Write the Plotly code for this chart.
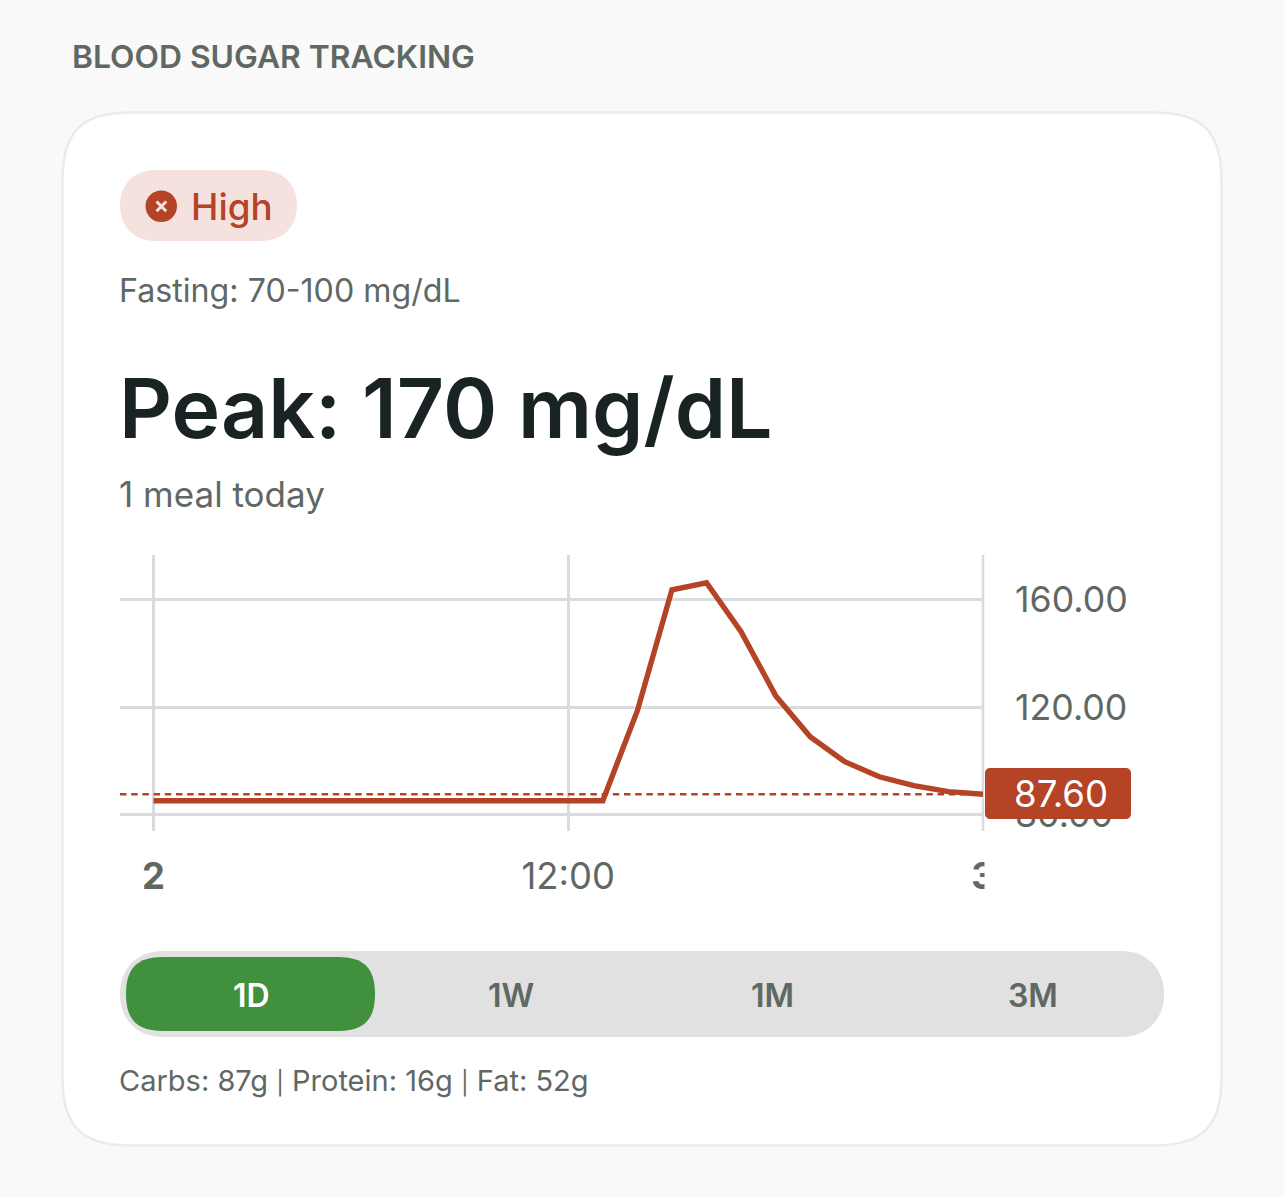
import plotly.graph_objects as go

# ---- data ----
hours = [0, 12, 13, 14, 15, 16, 17, 18, 19, 20, 21, 22, 23, 24]
glucose = [85.2, 85.2, 85.2, 118.7, 163.7, 166.3, 148.1, 124.3, 109.0, 99.7, 94.1, 90.8, 88.6, 87.6]
last_value = 87.60
x_tick_vals = [0, 12, 24]
x_tick_text = ["<b>2</b>", "12:00", "<b>3</b>"]
y_tick_vals = [80, 120, 160]
y_tick_text = ["80.00", "120.00", "160.00"]
segments = ["1D", "1W", "1M", "3M"]

W, H = 1284, 1197
RED = "#b54326"
GREY = "#5f6863"
DARK = "#1a2323"
GRID = "#d9dbde"
FONT = "Inter"


def px(x):
    return x / W


def py(y):
    return 1 - y / H


def rrect(x0, y0, x1, y1, r, fill, line=None, lw=0, c=0.45):
    k = r * c
    p = (f"M{px(x0 + r)},{py(y0)} L{px(x1 - r)},{py(y0)} "
         f"C{px(x1 - k)},{py(y0)} {px(x1)},{py(y0 + k)} {px(x1)},{py(y0 + r)} "
         f"L{px(x1)},{py(y1 - r)} "
         f"C{px(x1)},{py(y1 - k)} {px(x1 - k)},{py(y1)} {px(x1 - r)},{py(y1)} "
         f"L{px(x0 + r)},{py(y1)} "
         f"C{px(x0 + k)},{py(y1)} {px(x0)},{py(y1 - k)} {px(x0)},{py(y1 - r)} "
         f"L{px(x0)},{py(y0 + r)} "
         f"C{px(x0)},{py(y0 + k)} {px(x0 + k)},{py(y0)} {px(x0 + r)},{py(y0)} Z")
    return dict(type="path", xref="paper", yref="paper", path=p, fillcolor=fill,
                line=dict(color=line or fill, width=lw), layer="below")


fig = go.Figure()
fig.add_trace(go.Scatter(x=[-0.969, 24], y=[last_value, last_value], mode="lines",
                         line=dict(color=RED, width=2.7, dash="6.5px,4.7px"), hoverinfo="skip"))
fig.add_trace(go.Scatter(x=hours, y=glucose, mode="lines",
                         line=dict(color=RED, width=5.4), hoverinfo="skip"))

shapes = [
    rrect(62.5, 112.5, 1221.5, 1145.5, 68, "#ffffff", "#eaecea", 2.5, 0.28),
    rrect(120, 170, 297, 241, 35.5, "#f5e2df", c=0.4),
    rrect(120, 951, 1164, 1037, 43, "#e0e1e0", c=0.4),
    rrect(126, 957, 375, 1031, 37, "#40903e", c=0.3),
    dict(type="circle", xref="paper", yref="paper", x0=px(145.5), x1=px(177), y0=py(222), y1=py(190.5),
         fillcolor=RED, line=dict(width=0), layer="below"),
    dict(type="line", xref="paper", yref="paper", x0=px(156.5), x1=px(166.2), y0=py(201.5), y1=py(211.2),
         line=dict(color="#f5e2df", width=3), layer="below"),
    dict(type="line", xref="paper", yref="paper", x0=px(156.5), x1=px(166.2), y0=py(211.2), y1=py(201.5),
         line=dict(color="#f5e2df", width=3), layer="below"),
    # right edge rule of the plot
    dict(type="line", xref="paper", yref="paper", x0=px(983), x1=px(983), y0=py(831), y1=py(555),
         line=dict(color=GRID, width=2.5), layer="below"),
    # mask clipping the right-hand date label at the plot edge
    dict(type="rect", xref="paper", yref="paper", x0=px(984.5), x1=px(1010), y0=py(900), y1=py(850),
         fillcolor="#ffffff", line=dict(width=0), layer="above"),
]
tag = rrect(985, 768, 1131, 819, 5, RED)
tag["layer"] = "above"
shapes.append(tag)


def text(x, y, s, size, color, weight=400, anchor="left"):
    return dict(xref="paper", yref="paper", x=px(x), y=py(y), text=s, showarrow=False,
                xanchor=anchor, yanchor="middle", borderpad=0, borderwidth=0,
                font=dict(family=FONT, size=size, color=color, weight=weight))


pipe = '<span style="font-size:23px">|</span>'
annotations = [
    text(72, 56, "BLOOD SUGAR TRACKING", 31.8, GREY, 600),
    text(191, 207, "High", 36.8, RED, 500),
    text(119, 290, "Fasting: 70-100 mg/dL", 32.2, GREY),
    text(119, 408, "Peak: 170 mg/dL", 82.3, DARK, 600),
    text(119, 494, "1 meal today", 35, GREY),
    text(119, 1080, f"Carbs: 87g {pipe} Protein: 16g {pipe} Fat: 52g", 29, GREY),
    text(1061, 794, f"{last_value:.2f}", 36.6, "#ffffff", 400, "center"),
]
seg_centers = [251, 511, 772, 1033]
for name, c, on in zip(segments, seg_centers, [True, False, False, False]):
    annotations.append(text(c, 995, name, 32, "#ffffff" if on else GREY, 600, "center"))

fig.update_layout(
    width=W, height=H, autosize=False,
    margin=dict(l=0, r=0, t=0, b=0, pad=0),
    paper_bgcolor="#f9f9f9", plot_bgcolor="rgba(0,0,0,0)",
    showlegend=False,
    shapes=shapes, annotations=annotations,
    xaxis=dict(domain=[px(120), px(983)], range=[-0.969, 24], automargin=False,
               tickmode="array", tickvals=x_tick_vals, ticktext=x_tick_text, tickangle=0,
               showgrid=True, gridcolor=GRID, gridwidth=2.5, zeroline=False, showline=False,
               ticks="", ticklabelstandoff=21,
               tickfont=dict(family=FONT, size=36.4, color=GREY)),
    yaxis=dict(domain=[py(831), py(555)], range=[73.93, 176.63], side="right", automargin=False,
               tickmode="array", tickvals=y_tick_vals, ticktext=y_tick_text,
               showgrid=True, gridcolor=GRID, gridwidth=2.5, zeroline=False, showline=False,
               ticks="", ticklabelstandoff=31,
               tickfont=dict(family=FONT, size=35.7, color=GREY)),
)

fig.write_html("out.html", config=dict(displayModeBar=False),
               post_script="document.body.style.margin='0';document.body.style.background='#f9f9f9';")
